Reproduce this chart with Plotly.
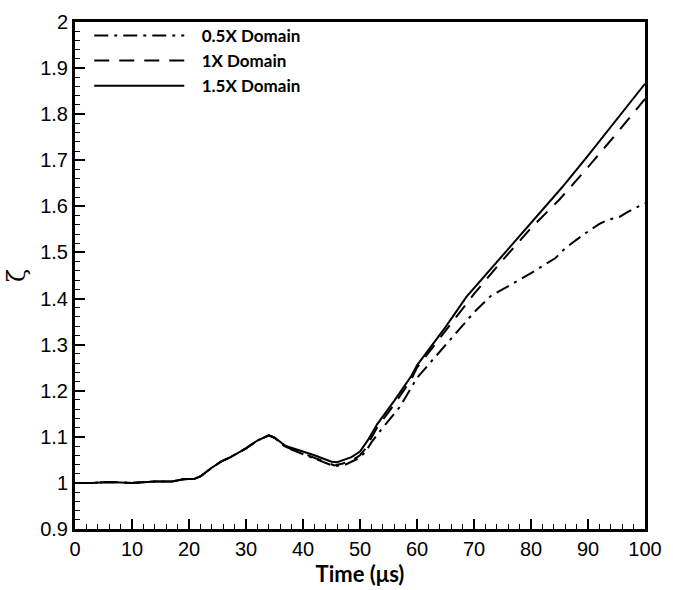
import plotly.graph_objects as go

# Shared early part (curves coincide up to ~35 us)
t_early = [0, 3, 6, 10, 14, 17, 19, 21, 22, 24, 25.6, 27.3, 30, 32, 34, 35]
v_early = [1.000, 1.000, 1.002, 1.000, 1.003, 1.003, 1.008, 1.009, 1.014,
           1.033, 1.046, 1.056, 1.075, 1.092, 1.103, 1.098]

t_half = [37, 40, 43, 45.5, 47.5, 49, 50, 51, 52, 54, 57, 60, 65, 70, 72.9,
          80, 84.3, 86, 89, 92, 93.5, 95.5, 97, 100]
v_half = [1.077, 1.062, 1.048, 1.036, 1.040, 1.048, 1.055, 1.068, 1.088,
          1.120, 1.165, 1.228, 1.300, 1.370, 1.405, 1.455, 1.488, 1.509,
          1.537, 1.562, 1.571, 1.577, 1.588, 1.607]

t_one = [37, 40, 43, 45.5, 47, 49, 50, 51, 52, 53, 56, 59, 60, 65, 70, 75,
         80, 85, 90, 95, 100]
v_one = [1.078, 1.064, 1.050, 1.038, 1.042, 1.052, 1.060, 1.075, 1.098,
         1.120, 1.170, 1.225, 1.250, 1.330, 1.410, 1.483, 1.553, 1.615,
         1.685, 1.758, 1.833]

t_onehalf = [37, 39, 42, 45, 46, 48.5, 50, 51.5, 53, 56, 59, 60, 65, 68.7,
             75, 80, 85.5, 90, 95, 100]
v_onehalf = [1.080, 1.072, 1.060, 1.046, 1.045, 1.056, 1.068, 1.095, 1.127,
             1.178, 1.232, 1.255, 1.338, 1.404, 1.493, 1.564, 1.642, 1.710,
             1.788, 1.866]

series_names = ["0.5X Domain", "1X Domain", "1.5X Domain"]
pad = "\u00a0\u00a0\u00a0"

fig = go.Figure()
fig.add_trace(go.Scatter(x=t_early + t_half, y=v_early + v_half, mode="lines",
                         name=pad + series_names[0],
                         line=dict(color="black", width=2, dash="14px,6px,3px,6px")))
fig.add_trace(go.Scatter(x=t_early + t_one, y=v_early + v_one, mode="lines",
                         name=pad + series_names[1],
                         line=dict(color="black", width=2, dash="15px,10px")))
fig.add_trace(go.Scatter(x=t_early + t_onehalf, y=v_early + v_onehalf, mode="lines",
                         name=pad + series_names[2],
                         line=dict(color="black", width=2)))

axis_common = dict(
    showgrid=False, zeroline=False, showline=True, linecolor="black",
    linewidth=3, mirror=True, ticks="inside", ticklen=10, tickwidth=2,
    tickcolor="black",
    tickfont=dict(family="Liberation Sans, Arial", size=20, color="black"),
)

fig.update_layout(
    width=673, height=590,
    margin=dict(l=75, r=19, t=11, b=51),
    paper_bgcolor="white", plot_bgcolor="white",
    showlegend=True,
    legend=dict(x=0.025, y=1.008, xanchor="left", yanchor="top",
                bgcolor="rgba(0,0,0,0)", itemwidth=90,
                font=dict(family="Lato, Open Sans", size=17, color="black",
                          weight="bold"),
                tracegroupgap=0),
    xaxis=dict(range=[0, 100], tickvals=list(range(0, 101, 10)),
               minor=dict(ticks="inside", ticklen=5, tickwidth=1,
                          tickcolor="black", dtick=2),
               title=dict(text="Time (μs)", standoff=4,
                          font=dict(family="Lato, Open Sans", size=22,
                                    color="black", weight="bold")),
               **axis_common),
    yaxis=dict(range=[0.9, 2.0],
               tickvals=[0.9, 1.0, 1.1, 1.2, 1.3, 1.4, 1.5, 1.6, 1.7, 1.8, 1.9, 2.0],
               ticktext=["0.9", "1", "1.1", "1.2", "1.3", "1.4", "1.5", "1.6",
                         "1.7", "1.8", "1.9", "2"],
               minor=dict(ticks="inside", ticklen=5, tickwidth=1,
                          tickcolor="black", dtick=0.02),
               title=dict(text="ζ", standoff=8,
                          font=dict(family="DejaVu Serif", size=24, color="black")),
               **axis_common),
)

fig.write_html("out.html")
